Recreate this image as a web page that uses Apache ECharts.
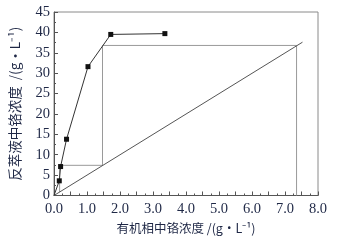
<!DOCTYPE html>
<html>
<head>
<meta charset="utf-8">
<script src="https://cdn.jsdelivr.net/npm/echarts@6/dist/echarts.min.js"></script>
<style>
  html, body { margin: 0; padding: 0; background: #fff; }
  #chart { width: 337px; height: 240px; }
</style>
</head>
<body>
<div id="chart"></div>
<script>
// equilibrium curve (organic vs raffinate Cr), first point is origin
var eqX = [0, 0.16, 0.2, 0.38, 1.03, 1.72, 3.36]
var eqY = [0, 3.6, 7.1, 13.8, 31.6, 39.5, 39.7]
// operating line
var opX = [0, 7.53]
var opY = [0, 37.6]
// stage construction (grey steps)
var stepX = [7.35, 7.35, 1.47, 1.47, 0.17, 0.17]
var stepY = [0, 36.8, 36.8, 7.4, 7.4, 0.85]

var xName = '有机相中铬浓度 /(g·L⁻¹)'
var yName = '反萃液中铬浓度  /(g·L⁻¹)'

function pairs(xs, ys) {
  return xs.map(function (x, i) { return [x, ys[i]] })
}

var chart = echarts.init(document.getElementById('chart'))
var labelColor = '#1f2846'
var font = 'Liberation Serif'

chart.setOption({
  animation: false,
  grid: {
    left: 54, right: 19, top: 12, bottom: 43,
    show: true, borderColor: '#8a8a8a', borderWidth: 1
  },
  xAxis: {
    type: 'value',
    min: 0, max: 8, interval: 0.5,
    name: xName,
    nameLocation: 'middle',
    nameGap: 27,
    nameTextStyle: { fontFamily: 'Noto Sans CJK SC', fontSize: 12.5, color: labelColor },
    axisLine: { lineStyle: { color: '#555', width: 1 } },
    axisTick: { inside: true, length: 4, lineStyle: { color: '#555' } },
    minorTick: { show: true, splitNumber: 2, length: 2, lineStyle: { color: '#555' } },
    splitLine: { show: false },
    axisLabel: {
      fontFamily: font, fontSize: 14.5, color: labelColor, margin: 6,
      formatter: function (v) { return v % 1 === 0 ? v.toFixed(1) : '' }
    }
  },
  yAxis: {
    type: 'value',
    min: 0, max: 45, interval: 5,
    name: yName,
    nameLocation: 'middle',
    nameGap: 32,
    nameTextStyle: { fontFamily: 'Noto Sans CJK SC', fontSize: 13.5, color: labelColor },
    axisLine: { show: true, lineStyle: { color: '#555', width: 1 } },
    axisTick: { show: true, inside: true, length: 4, lineStyle: { color: '#555' } },
    minorTick: { show: true, splitNumber: 2, length: 2, lineStyle: { color: '#555' } },
    splitLine: { show: false },
    axisLabel: { fontFamily: font, fontSize: 14.5, color: labelColor, margin: 4 }
  },
  series: [
    {
      type: 'line',
      data: pairs(stepX, stepY),
      symbol: 'none',
      lineStyle: { color: '#9a9a9a', width: 1 },
      z: 1
    },
    {
      type: 'line',
      data: pairs(opX, opY),
      symbol: 'none',
      lineStyle: { color: '#555', width: 1 },
      z: 2
    },
    {
      type: 'line',
      // no marker on the origin point
      data: pairs(eqX, eqY).map(function (p, i) {
        return i === 0 ? { value: p, symbolSize: 0 } : p
      }),
      symbol: 'rect',
      symbolSize: 5,
      showSymbol: true,
      itemStyle: { color: '#111' },
      lineStyle: { color: '#333', width: 1 },
      z: 3
    }
  ]
})
</script>
</body>
</html>
